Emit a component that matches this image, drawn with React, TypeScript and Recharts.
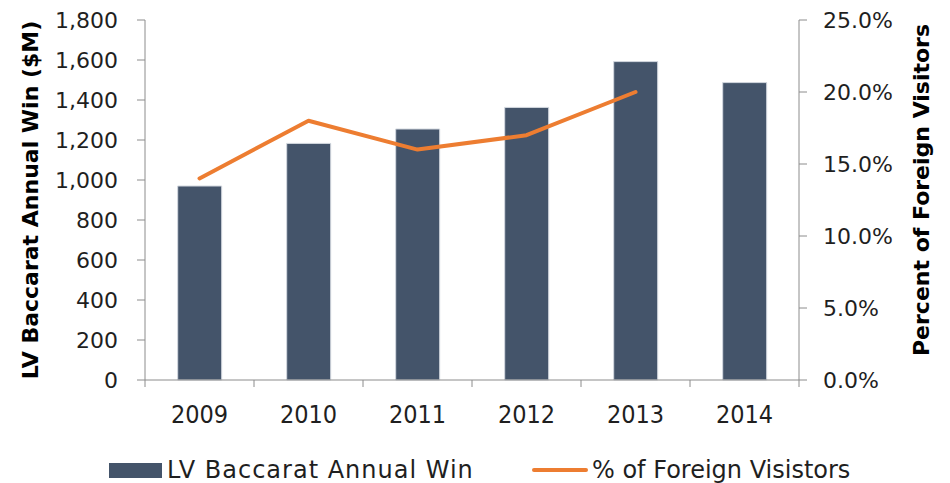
import React from 'react';
import { ComposedChart, Bar, Line, XAxis, YAxis, Legend } from 'recharts';

const years = ['2009', '2010', '2011', '2012', '2013', '2014'];
const baccaratWin = [970, 1183, 1255, 1363, 1592, 1487];
const foreignPct: (number | null)[] = [0.14, 0.18, 0.16, 0.17, 0.2, null];
const leftTicks = [0, 200, 400, 600, 800, 1000, 1200, 1400, 1600, 1800];
const rightTicks = [0, 0.05, 0.1, 0.15, 0.2, 0.25];

const data = years.map((y, i) => ({ year: y, win: baccaratWin[i], pct: foreignPct[i] }));

const W = 950;
const H = 483;
const LEFT_W = 145;
const RIGHT_W = 151;
const PLOT_W = W - LEFT_W - RIGHT_W;
const BAND = PLOT_W / years.length;

const BAR_COLOR = '#44546A';
const LINE_COLOR = '#ED7D31';
const AXIS_COLOR = '#8c8c8c';
const TEXT_COLOR = '#1f1f1f';
const FONT = "'DejaVu Sans', sans-serif";

const XTick = (props: any) => {
  const { x, y, payload, index } = props;
  const left = x - BAND / 2;
  const right = x + BAND / 2;
  return (
    <g>
      <line x1={left} x2={left} y1={y} y2={y + 7} stroke={AXIS_COLOR} strokeWidth={1} />
      {index === years.length - 1 && (
        <line x1={right} x2={right} y1={y} y2={y + 7} stroke={AXIS_COLOR} strokeWidth={1} />
      )}
      <text
        x={x}
        y={y + 43}
        textAnchor="middle"
        fill={TEXT_COLOR}
        style={{ fontFamily: "'DejaVu Sans Condensed', 'DejaVu Sans', sans-serif", fontStretch: 'condensed', fontSize: 25 }}
      >
        {payload.value}
      </text>
    </g>
  );
};

const LegendContent = () => (
  <svg width={W} height={43} style={{ display: 'block' }}>
    <rect x={109} y={23} width={53} height={15} fill={BAR_COLOR} />
    <text x={167} y={38} fill={TEXT_COLOR} style={{ fontFamily: FONT, fontSize: 24, letterSpacing: 1 }}>
      LV Baccarat Annual Win
    </text>
    <line x1={534} x2={586} y1={30} y2={30} stroke={LINE_COLOR} strokeWidth={4} strokeLinecap="round" />
    <text x={592} y={38} fill={TEXT_COLOR} style={{ fontFamily: FONT, fontSize: 24 }}>
      % of Foreign Visistors
    </text>
  </svg>
);

const LeftTitle = (props: any) => {
  const vb = props.viewBox || {};
  const cy = (vb.y ?? 20) + (vb.height ?? 360) / 2;
  const x = 38;
  return (
    <text
      x={x}
      y={cy}
      textAnchor="middle"
      transform={`rotate(-90, ${x}, ${cy})`}
      fill="#000"
      style={{ fontFamily: FONT, fontSize: 22, fontWeight: 'bold' }}
    >
      LV Baccarat Annual Win ($M)
    </text>
  );
};

const RightTitle = (props: any) => {
  const vb = props.viewBox || {};
  const cy = (vb.y ?? 20) + (vb.height ?? 360) / 2 - 10;
  const x = (vb.x ?? 799) + 130;
  return (
    <text
      x={x}
      y={cy}
      textAnchor="middle"
      transform={`rotate(-90, ${x}, ${cy})`}
      fill="#000"
      style={{ fontFamily: FONT, fontSize: 22, fontWeight: 'bold' }}
    >
      Percent of Foreign Visitors
    </text>
  );
};

export default function App() {
  return (
    <div style={{ position: 'absolute', left: 0, top: 0, width: W, height: H, background: '#fff' }}>
      <ComposedChart
        width={W}
        height={H}
        data={data}
        margin={{ top: 20, right: 0, bottom: 0, left: 0 }}
        barCategoryGap="30%"
      >
        <XAxis
          dataKey="year"
          xAxisId="x"
          height={60}
          axisLine={{ stroke: AXIS_COLOR, strokeWidth: 1 }}
          tickLine={false}
          tickSize={0}
          tickMargin={0}
          interval={0}
          tick={<XTick />}
        />
        <YAxis
          yAxisId="left"
          orientation="left"
          width={LEFT_W}
          domain={[0, 1800]}
          ticks={leftTicks}
          interval={0}
          tickFormatter={(v: number) => v.toLocaleString('en-US')}
          axisLine={{ stroke: AXIS_COLOR, strokeWidth: 1 }}
          tickLine={{ stroke: AXIS_COLOR, strokeWidth: 1 }}
          tickSize={8}
          tickMargin={19}
          tick={{ fill: TEXT_COLOR, fontSize: 22, fontFamily: FONT }}
          label={<LeftTitle />}
        />
        <YAxis
          yAxisId="right"
          orientation="right"
          width={RIGHT_W}
          domain={[0, 0.25]}
          ticks={rightTicks}
          interval={0}
          tickFormatter={(v: number) => (v * 100).toFixed(1) + '%'}
          axisLine={{ stroke: AXIS_COLOR, strokeWidth: 1 }}
          tickLine={{ stroke: AXIS_COLOR, strokeWidth: 1 }}
          tickSize={8}
          tickMargin={16}
          tick={{ fill: TEXT_COLOR, fontSize: 22, fontFamily: FONT, textAnchor: 'start' }}
          label={<RightTitle />}
        />
        <Legend
          verticalAlign="bottom"
          height={43}
          wrapperStyle={{ left: 0, width: W, bottom: 0, height: 43 }}
          content={<LegendContent />}
        />
        <Bar
          xAxisId="x"
          yAxisId="left"
          dataKey="win"
          name="LV Baccarat Annual Win"
          fill={BAR_COLOR}
          stroke="#d3d8df"
          strokeWidth={1}
          isAnimationActive={false}
        />
        <Line
          xAxisId="x"
          yAxisId="right"
          dataKey="pct"
          name="% of Foreign Visistors"
          stroke={LINE_COLOR}
          strokeWidth={4}
          strokeLinecap="round"
          strokeLinejoin="round"
          dot={false}
          activeDot={false}
          connectNulls={false}
          isAnimationActive={false}
        />
      </ComposedChart>
    </div>
  );
}
